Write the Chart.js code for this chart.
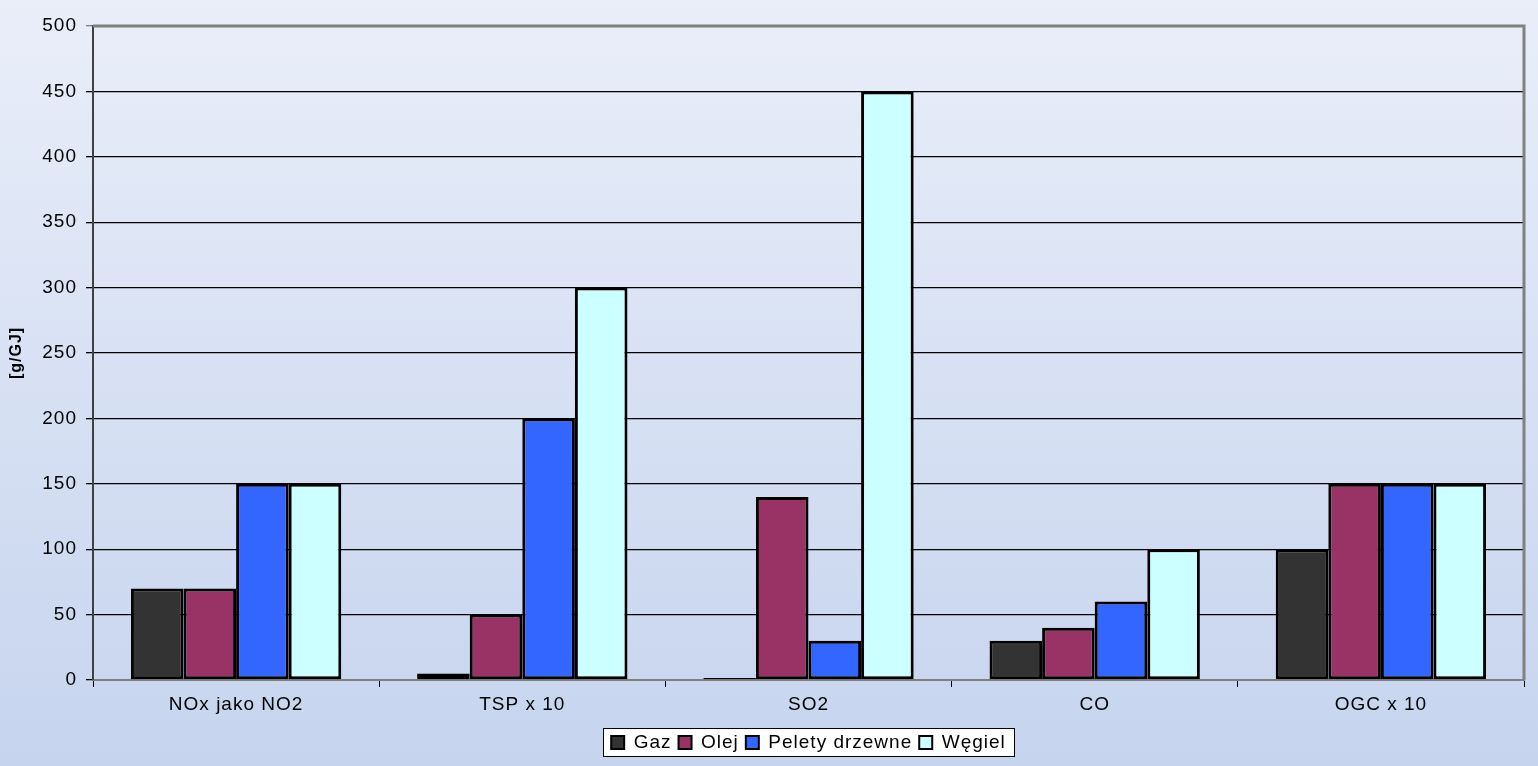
<!DOCTYPE html>
<html>
<head>
<meta charset="utf-8">
<script src="https://cdn.jsdelivr.net/npm/chart.js@4"></script>
<style>
  html, body { margin: 0; padding: 0; background: #c8d5ef; }
  canvas { display: block; }
</style>
</head>
<body>
<canvas id="myChart" width="1538" height="766"></canvas>
<script>
const categories = ['NOx jako NO2', 'TSP x 10', 'SO2', 'CO', 'OGC x 10'];
const gaz = [70, 5, 1.5, 30, 100];
const olej = [70, 50, 140, 40, 150];
const pelety = [150, 200, 30, 60, 150];
const wegiel = [150, 300, 450, 100, 150];
const seriesNames = ['Gaz', 'Olej', 'Pelety drzewne', 'Węgiel'];
const seriesColors = ['#333333', '#993366', '#3366ff', '#ccffff'];

function legendRect(chart) {
  const boxes = chart.legend.legendHitBoxes;
  if (!boxes || !boxes.length) return null;
  let l = Infinity, r = -Infinity, t = Infinity, b = -Infinity;
  boxes.forEach(h => {
    l = Math.min(l, h.left); r = Math.max(r, h.left + h.width);
    t = Math.min(t, h.top); b = Math.max(b, h.top + h.height);
  });
  return { x: Math.round(l - 8), y: Math.round(t - 5), w: Math.round(r - l + 16), h: Math.round(b - t + 9) };
}

// brede letters zoals in het origineel
const spacing = '1px';
const spacingPlugin = {
  id: 'spacing',
  beforeUpdate(chart) { chart.ctx.letterSpacing = spacing; },
  beforeLayout(chart) { chart.ctx.letterSpacing = spacing; },
  beforeDraw(chart) { chart.ctx.letterSpacing = spacing; }
};

// achtergrond verloop + kader + legenda
const bgPlugin = {
  id: 'bg',
  beforeDraw(chart) {
    const c = chart.ctx;
    const g = c.createLinearGradient(0, 0, 0, chart.height);
    g.addColorStop(0, '#e9eef9');
    g.addColorStop(1, '#c6d4ee');
    c.save();
    c.fillStyle = g;
    c.fillRect(0, 0, chart.width, chart.height);
    const lr = legendRect(chart);
    if (lr) {
      c.fillStyle = '#ffffff';
      c.fillRect(lr.x, lr.y, lr.w, lr.h);
      c.strokeStyle = '#000000';
      c.lineWidth = 1;
      c.strokeRect(lr.x + 0.5, lr.y + 0.5, lr.w, lr.h);
    }
    c.restore();
  },
  afterDatasetsDraw(chart) {
    const a = chart.chartArea;
    const c = chart.ctx;
    c.save();
    c.strokeStyle = '#808080';
    c.lineWidth = 3;
    c.beginPath();
    c.moveTo(a.left, a.top);
    c.lineTo(a.right, a.top);
    c.lineTo(a.right, a.bottom);
    c.stroke();
    c.restore();
  }
};

const datasets = [gaz, olej, pelety, wegiel].map((d, i) => ({
  label: seriesNames[i],
  data: d,
  backgroundColor: seriesColors[i],
  borderColor: '#000000',
  borderWidth: 3,
  borderSkipped: false
}));

new Chart(document.getElementById('myChart').getContext('2d'), {
  type: 'bar',
  data: { labels: categories, datasets: datasets },
  plugins: [spacingPlugin, bgPlugin],
  options: {
    responsive: false,
    animation: false,
    devicePixelRatio: 1,
    layout: { padding: { top: 26, right: 14, left: 0, bottom: 4 } },
    datasets: {
      bar: { categoryPercentage: 0.735, barPercentage: 1 }
    },
    scales: {
      x: {
        grid: {
          offset: true,
          drawOnChartArea: false,
          drawTicks: true,
          tickLength: 7,
          color: '#000000'
        },
        border: { color: '#808080', width: 2 },
        ticks: {
          color: '#000000',
          padding: 6,
          font: { family: 'Liberation Sans, Arial', size: 19 }
        },
        afterFit(s) { s.height = 46; }
      },
      y: {
        min: 0,
        max: 500,
        ticks: {
          stepSize: 50,
          color: '#000000',
          padding: 9,
          font: { family: 'Liberation Sans, Arial', size: 19 }
        },
        grid: {
          color: ctx => (ctx.tick && ctx.tick.value === 500 ? '#808080' : '#000000'),
          lineWidth: 1.3,
          tickLength: 7
        },
        border: { color: '#404040', width: 2 },
        title: {
          display: true,
          text: '[g/GJ]',
          color: '#000000',
          font: { family: 'Liberation Sans, Arial', size: 16, weight: 'bold' },
          padding: { top: 7, bottom: 0 }
        },
        afterFit(s) { s.width = 93; }
      }
    },
    plugins: {
      tooltip: { enabled: false },
      legend: {
        position: 'bottom',
        fullSize: false,
        labels: {
          color: '#000000',
          boxWidth: 13,
          boxHeight: 13,
          padding: 7,
          font: { family: 'Liberation Sans, Arial', size: 19 },
          generateLabels(chart) {
            return chart.data.datasets.map((ds, i) => ({
              text: ds.label,
              fillStyle: ds.backgroundColor,
              strokeStyle: '#000000',
              lineWidth: 2,
              datasetIndex: i,
              hidden: false
            }));
          }
        }
      }
    }
  }
});
</script>
</body>
</html>
